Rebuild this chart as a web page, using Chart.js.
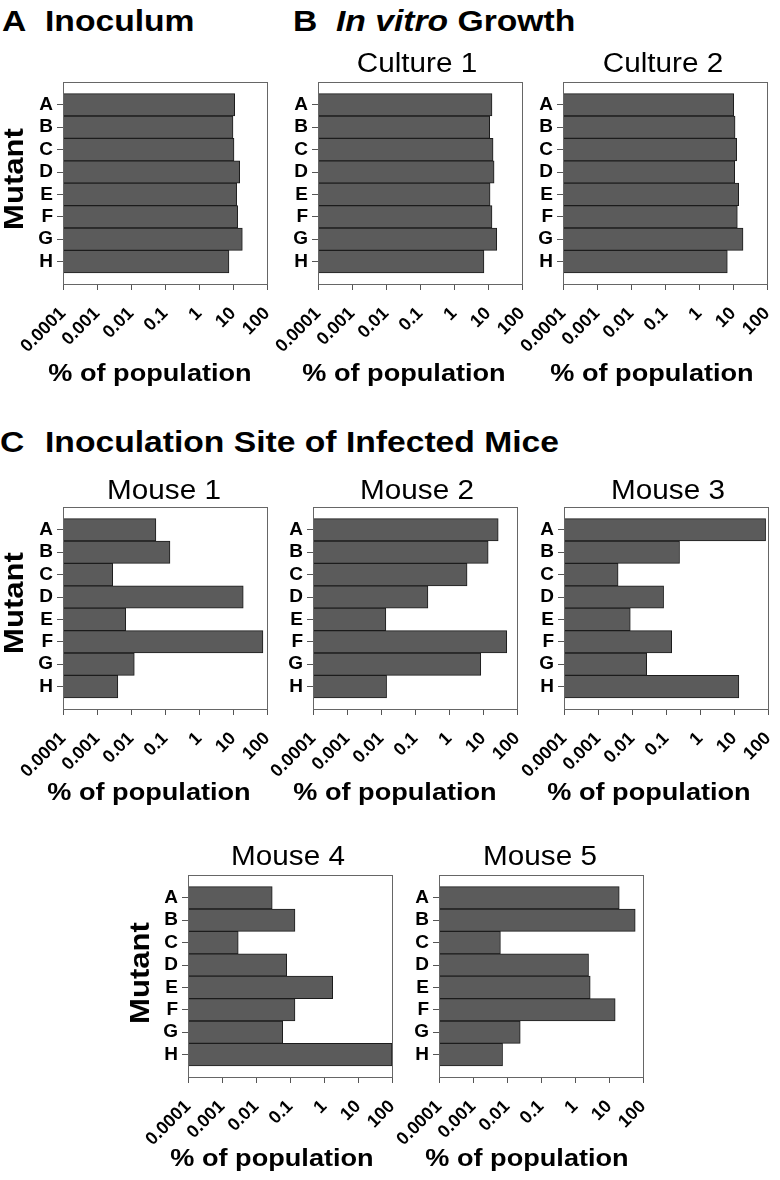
<!DOCTYPE html>
<html>
<head>
<meta charset="utf-8">
<title>Mutant populations</title>
<script src="https://cdn.jsdelivr.net/npm/chart.js@4"></script>
<style>
  body { margin: 0; background: #fff; }
  #page { position: relative; width: 780px; height: 1180px; overflow: hidden; font-family: "Liberation Sans", Arial, sans-serif; color: #000; }
  .panel { position: absolute; }
  .txt { position: absolute; white-space: pre; }
</style>
</head>
<body>
<div id="page"></div>
<script>
// categories and tick labels
const mutants = ["A", "B", "C", "D", "E", "F", "G", "H"];
const xTickValues = [0.0001, 0.001, 0.01, 0.1, 1, 10, 100];
const xTickLabels = ["0.0001", "0.001", "0.01", "0.1", "1", "10", "100"];

// % of population for each mutant (A..H)
const inoculum = [11.2, 10.0, 10.7, 15.7, 12.8, 13.7, 18.8, 7.6];
const culture1 = [13.1, 11.2, 14.1, 15.1, 11.5, 13.1, 18.1, 7.6];
const culture2 = [10.5, 11.5, 12.8, 11.2, 14.7, 13.4, 19.7, 6.8];
const mouse1 = [0.054, 0.14, 0.0029, 20, 0.007, 76, 0.0125, 0.0041];
const mouse2 = [28, 14.2, 3.4, 0.24, 0.0139, 50, 8.6, 0.0146];
const mouse3 = [85, 0.25, 0.0039, 0.085, 0.0089, 0.147, 0.027, 13.9];
const mouse4 = [0.03, 0.14, 0.003, 0.08, 1.8, 0.14, 0.061, 100];
const mouse5 = [20, 59, 0.0064, 2.5, 2.8, 15.2, 0.0245, 0.0074];

const FONT = '"Liberation Sans", Arial, sans-serif';
const AXIS_W = 70;   // room left of the plot box
const AXIS_H = 80;   // room under the plot box
const PAD_TOP = 14;
const PAD_RIGHT = 34;
const BOX_W = 204;
const BOX_H = 203;

const page = document.getElementById("page");

// box around the plot area
const boxPlugin = {
  id: "box",
  afterDraw(chart) {
    const { ctx, chartArea: a } = chart;
    ctx.save();
    ctx.strokeStyle = "#666";
    ctx.lineWidth = 1;
    ctx.strokeRect(Math.round(a.left) + 0.5, Math.round(a.top) + 0.5, Math.round(a.right - a.left), Math.round(a.bottom - a.top));
    ctx.restore();
  }
};

function makeChart(values, boxLeft, boxTop) {
  const wrap = document.createElement("div");
  wrap.className = "panel";
  const w = AXIS_W + BOX_W + PAD_RIGHT;
  const h = PAD_TOP + BOX_H + AXIS_H;
  wrap.style.left = (boxLeft - AXIS_W) + "px";
  wrap.style.top = (boxTop - PAD_TOP) + "px";
  const canvas = document.createElement("canvas");
  canvas.width = w;
  canvas.height = h;
  wrap.appendChild(canvas);
  page.appendChild(wrap);

  return new Chart(canvas, {
    type: "bar",
    data: {
      labels: ["", ...mutants, ""],
      datasets: [{
        data: [null, ...values, null],
        backgroundColor: "#5b5b5b",
        borderColor: "#1c1c1c",
        borderWidth: 1,
        barPercentage: 1,
        categoryPercentage: 1
      }]
    },
    options: {
      indexAxis: "y",
      responsive: false,
      animation: false,
      devicePixelRatio: 1,
      layout: { padding: { top: PAD_TOP, right: PAD_RIGHT, left: 0, bottom: 0 } },
      plugins: { legend: { display: false }, tooltip: { enabled: false } },
      scales: {
        x: {
          type: "logarithmic",
          min: 0.0001,
          max: 100,
          afterBuildTicks: (s) => { s.ticks = xTickValues.map((v) => ({ value: v })); },
          afterFit: (s) => { s.height = AXIS_H; },
          ticks: {
            autoSkip: false,
            minRotation: 45,
            maxRotation: 45,
            padding: 13,
            color: "#000",
            font: { family: FONT, size: 18, weight: "bold" },
            callback: (v, i) => xTickLabels[i]
          },
          grid: { drawOnChartArea: false, tickLength: 6, tickColor: "#555" },
          border: { display: false }
        },
        y: {
          type: "category",
          offset: false,
          afterFit: (s) => { s.width = AXIS_W; },
          ticks: {
            autoSkip: false,
            padding: 4,
            color: "#000",
            font: { family: FONT, size: 19, weight: "bold" }
          },
          grid: {
            offset: false,
            drawOnChartArea: false,
            tickLength: 6,
            tickColor: (c) => (c.index === 0 || c.index === mutants.length + 1) ? "rgba(0,0,0,0)" : "#555"
          },
          border: { display: false }
        }
      }
    },
    plugins: [boxPlugin]
  });
}

// text helper: x is left edge (align left) or centre (align center), y is the baseline
function addText(html, x, baseline, size, weight, align, sx, rotate) {
  const d = document.createElement("div");
  d.className = "txt";
  d.innerHTML = html;
  d.style.fontSize = size + "px";
  d.style.lineHeight = size + "px";
  d.style.fontWeight = weight;
  d.style.top = (baseline - size * 0.8465) + "px";
  if (align === "center") {
    d.style.width = "400px";
    d.style.left = (x - 200) + "px";
    d.style.textAlign = "center";
    d.style.transformOrigin = "50% 50%";
  } else {
    d.style.left = x + "px";
    d.style.transformOrigin = "0 50%";
  }
  d.style.transform = (rotate ? "rotate(-90deg) " : "") + "scaleX(" + sx + ")";
  page.appendChild(d);
}

// panels
makeChart(inoculum, 63, 81);
makeChart(culture1, 318, 81);
makeChart(culture2, 563, 81);
makeChart(mouse1, 63, 506);
makeChart(mouse2, 313, 506);
makeChart(mouse3, 564, 506);
makeChart(mouse4, 188, 874);
makeChart(mouse5, 439, 874);

// section headings
addText("A", 2, 32, 29, "bold", "left", 1.16);
addText("Inoculum", 44.5, 32, 29, "bold", "left", 1.16);
addText("B", 292.5, 32, 29, "bold", "left", 1.16);
addText("<i>In vitro</i> Growth", 336, 32, 29, "bold", "left", 1.16);
addText("C", 0, 453, 29, "bold", "left", 1.16);
addText("Inoculation Site of Infected Mice", 44.5, 453, 29, "bold", "left", 1.16);

// panel titles
addText("Culture 1", 417, 73, 27, "normal", "center", 1.1);
addText("Culture 2", 663, 73, 27, "normal", "center", 1.1);
addText("Mouse 1", 164, 500, 27, "normal", "center", 1.1);
addText("Mouse 2", 417, 500, 27, "normal", "center", 1.1);
addText("Mouse 3", 668, 500, 27, "normal", "center", 1.1);
addText("Mouse 4", 288, 866, 27, "normal", "center", 1.1);
addText("Mouse 5", 540, 866, 27, "normal", "center", 1.1);

// x axis titles
const xTitle = "% of population";
addText(xTitle, 150, 381, 24, "bold", "center", 1.13);
addText(xTitle, 404, 381, 24, "bold", "center", 1.13);
addText(xTitle, 652, 381, 24, "bold", "center", 1.13);
addText(xTitle, 149, 800, 24, "bold", "center", 1.13);
addText(xTitle, 395, 800, 24, "bold", "center", 1.13);
addText(xTitle, 649, 800, 24, "bold", "center", 1.13);
addText(xTitle, 272, 1166, 24, "bold", "center", 1.13);
addText(xTitle, 527, 1166, 24, "bold", "center", 1.13);

// y axis titles (rotated, centred on cx, cy)
function addMutant(cx, cy) {
  // baseline chosen so the line box centre sits on cy
  addText("Mutant", cx, cy + 28 * 0.8465 - 14, 28, "bold", "center", 1.11, true);
}
addMutant(14, 179);
addMutant(14, 603);
addMutant(140, 973);
</script>
</body>
</html>
